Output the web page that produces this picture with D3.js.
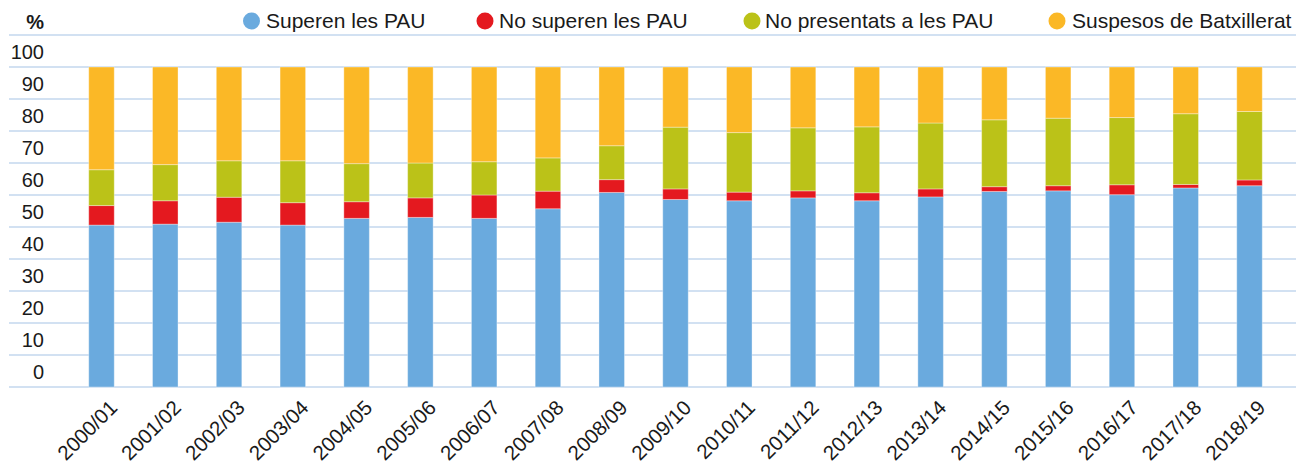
<!DOCTYPE html>
<html>
<head>
<meta charset="utf-8">
<script src="https://cdn.jsdelivr.net/npm/d3@7"></script>
<style>
  body { margin: 0; background: #fff; }
  svg text { font-family: "Liberation Sans", Arial, sans-serif; fill: #1a1a1a; }
</style>
</head>
<body>
<div id="chart"></div>
<script>
// Chart data (percentages)
const courses = ["2000/01", "2001/02", "2002/03", "2003/04", "2004/05", "2005/06", "2006/07",
    "2007/08", "2008/09", "2009/10", "2010/11", "2011/12", "2012/13", "2013/14",
    "2014/15", "2015/16", "2016/17", "2017/18", "2018/19"];

const superen = [50.6, 50.9, 51.5, 50.6, 52.7, 53.0, 52.7, 55.7, 60.8, 58.6, 58.2, 59.1, 58.2, 59.4, 61.1, 61.3, 60.1, 62.2, 62.9];
const noSuperen = [6.1, 7.3, 7.8, 7.0, 5.2, 6.1, 7.3, 5.5, 4.0, 3.3, 2.7, 2.2, 2.5, 2.5, 1.5, 1.6, 3.1, 1.1, 1.8];
const noPresentats = [11.2, 11.3, 11.4, 13.1, 11.9, 10.9, 10.4, 10.4, 10.6, 19.3, 18.6, 19.7, 20.6, 20.6, 20.9, 21.1, 21.0, 22.1, 21.4];
const suspesos = [32.1, 30.5, 29.3, 29.3, 30.2, 30.0, 29.6, 28.4, 24.6, 18.8, 20.5, 19.0, 18.7, 17.5, 16.5, 16.0, 15.8, 14.6, 13.9];

const seriesNames = ["Superen les PAU", "No superen les PAU", "No presentats a les PAU", "Suspesos de Batxillerat"];
const seriesKeys = ["superen", "noSuperen", "noPresentats", "suspesos"];
const seriesColors = ["#6aaade", "#e4191f", "#bbc218", "#fbb826"];

const yTicks = [0, 10, 20, 30, 40, 50, 60, 70, 80, 90, 100];
const gridValues = [0, 10, 20, 30, 40, 50, 60, 70, 80, 90, 100, 110];

// Build rows for d3.stack
const rows = courses.map((c, i) => ({
    course: c,
    superen: superen[i],
    noSuperen: noSuperen[i],
    noPresentats: noPresentats[i],
    suspesos: suspesos[i]
}));

const width = 1298;
const height = 464;

const svg = d3.select("#chart")
    .append("svg")
    .attr("width", width)
    .attr("height", height);

// Scales
const xScale = d3.scaleBand()
    .domain(courses)
    .range([69.6, 1281.4])
    .padding(0);

const yScale = d3.scaleLinear()
    .domain([0, 100])
    .range([387, 67]);

const barWidth = xScale.bandwidth() * 0.4;

// Horizontal grid lines
svg.selectAll(".grid")
    .data(gridValues)
    .enter()
    .append("line")
    .attr("class", "grid")
    .attr("x1", 9)
    .attr("x2", 1296)
    .attr("y1", d => yScale(d))
    .attr("y2", d => yScale(d))
    .attr("stroke", "#c3d7ee")
    .attr("stroke-width", 1.6);

// Stacked bars
const stacked = d3.stack().keys(seriesKeys)(rows);

svg.selectAll(".layer")
    .data(stacked)
    .enter()
    .append("g")
    .attr("class", "layer")
    .attr("fill", (d, i) => seriesColors[i])
    .selectAll("rect")
    .data(d => d)
    .enter()
    .append("rect")
    .attr("x", d => xScale(d.data.course) + (xScale.bandwidth() - barWidth) / 2)
    .attr("y", d => yScale(d[1]))
    .attr("width", barWidth)
    .attr("height", d => yScale(d[0]) - yScale(d[1]))
    .attr("stroke", "#ffffff")
    .attr("stroke-opacity", 0.35)
    .attr("stroke-width", 1);

// Y-axis labels (sit half a step above their grid line)
svg.selectAll(".y-label")
    .data(yTicks)
    .enter()
    .append("text")
    .attr("class", "y-label")
    .attr("x", 44)
    .attr("y", d => yScale(d) - 15)
    .attr("dy", "0.35em")
    .attr("text-anchor", "end")
    .style("font-size", "20px")
    .text(d => d);

// Unit label
svg.append("text")
    .attr("x", 44)
    .attr("y", 29)
    .attr("text-anchor", "end")
    .style("font-size", "20px")
    .style("font-weight", "bold")
    .text("%");

// X-axis labels rotated
svg.selectAll(".x-label")
    .data(courses)
    .enter()
    .append("text")
    .attr("class", "x-label")
    .attr("transform", d => "translate(" + (xScale(d) + xScale.bandwidth() / 2 + 17) + ",409) rotate(-45)")
    .attr("text-anchor", "end")
    .style("font-size", "20.5px")
    .text(d => d);

// Legend
const legendCircleX = [251.5, 485, 752, 1057];
const legendTextX = [266, 499, 765, 1072];

const legend = svg.selectAll(".legend")
    .data(seriesNames)
    .enter()
    .append("g")
    .attr("class", "legend");

legend.append("circle")
    .attr("cx", (d, i) => legendCircleX[i])
    .attr("cy", 21)
    .attr("r", 8.5)
    .attr("fill", (d, i) => seriesColors[i]);

legend.append("text")
    .attr("x", (d, i) => legendTextX[i])
    .attr("y", 28)
    .style("font-size", "21px")
    .text(d => d);
</script>
</body>
</html>
